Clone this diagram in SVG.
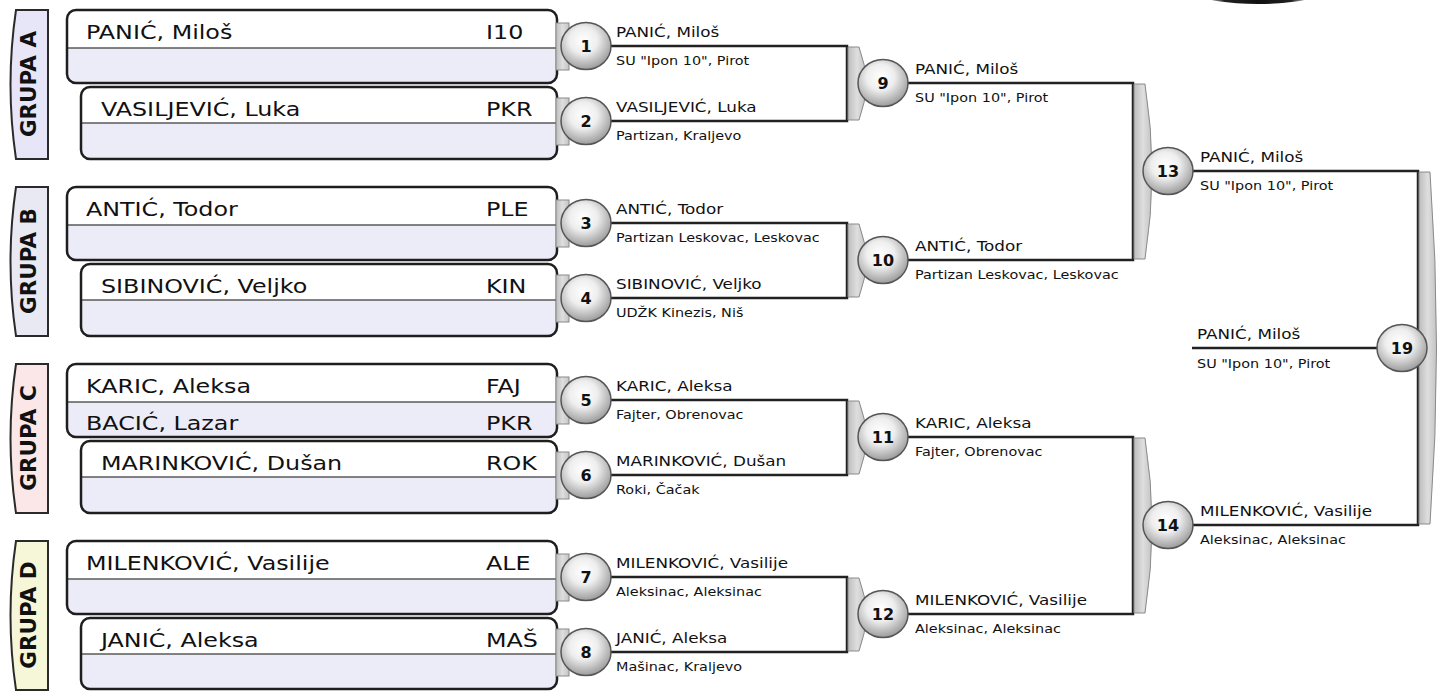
<svg xmlns="http://www.w3.org/2000/svg" width="1441" height="691" viewBox="0 0 1441 691">
<defs>
<radialGradient id="ball" cx="45%" cy="38%" r="62%">
<stop offset="0" stop-color="#ffffff"/>
<stop offset="0.45" stop-color="#eeeeee"/>
<stop offset="1" stop-color="#9c9c9c"/>
</radialGradient>
<linearGradient id="brk" x1="0" y1="0" x2="1" y2="0">
<stop offset="0" stop-color="#bdbdbd"/>
<stop offset="0.5" stop-color="#dedede"/>
<stop offset="1" stop-color="#c4c4c4"/>
</linearGradient>
<linearGradient id="dark" x1="0" y1="0" x2="1" y2="0">
<stop offset="0" stop-color="#444" stop-opacity="0"/>
<stop offset="0.2" stop-color="#222"/>
<stop offset="0.5" stop-color="#111"/>
<stop offset="0.8" stop-color="#222"/>
<stop offset="1" stop-color="#444" stop-opacity="0"/>
</linearGradient>
<style>
.tab{stroke:#2a2a2a;stroke-width:2}
.box{fill:#ecebf8;stroke:none}
.out{fill:none;stroke:#1e1e1e;stroke-width:2.5}
.top{fill:#ffffff}
.sep{stroke:#5a5a5a;stroke-width:1.3}
.gt{font-family:"DejaVu Sans",sans-serif;font-weight:bold;font-size:21.5px;fill:#111;text-anchor:middle}
.nm{font-family:"DejaVu Sans",sans-serif;font-size:20px;fill:#111}
.cn{font-family:"DejaVu Sans",sans-serif;font-size:14px;fill:#111}
.cl{font-family:"DejaVu Sans",sans-serif;font-size:12px;fill:#111}
.num{font-family:"DejaVu Sans",sans-serif;font-size:16px;font-weight:bold;fill:#111;text-anchor:middle}
.ball{fill:url(#ball);stroke:#555;stroke-width:1.5}
.wire{fill:none;stroke:#222;stroke-width:2.5}
.brk{fill:url(#brk);stroke:#8a8a8a;stroke-width:1}
</style>
</defs>
<rect width="1441" height="691" fill="#ffffff"/>
<ellipse cx="1258" cy="-5" rx="56" ry="9" fill="url(#dark)"/>

<!-- group tabs -->
<g id="grupa-a"><path class="tab" fill="#e6e6f8" d="M48,10 L16,10 Q5,84.5 16,159 L48,159 Z"/><text class="gt" transform="translate(36 84) rotate(-90)">GRUPA A</text></g>
<g id="grupa-b"><path class="tab" fill="#e9e9f4" d="M48,187 L16,187 Q5,261.5 16,336 L48,336 Z"/><text class="gt" transform="translate(36 261) rotate(-90)">GRUPA B</text></g>
<g id="grupa-c"><path class="tab" fill="#fbe7e7" d="M48,364 L16,364 Q5,438.5 16,513 L48,513 Z"/><text class="gt" transform="translate(36 438) rotate(-90)">GRUPA C</text></g>
<g id="grupa-d"><path class="tab" fill="#f6f6d9" d="M48,541 L16,541 Q5,615.5 16,690 L48,690 Z"/><text class="gt" transform="translate(36 615) rotate(-90)">GRUPA D</text></g>

<!-- player boxes -->
<g id="box-1">
<rect class="box" x="67" y="10" width="490" height="73" rx="9"/>
<path class="top" d="M67,48 L67,19 Q67,10 76,10 L548,10 Q557,10 557,19 L557,48 Z"/>
<line class="sep" x1="67" y1="48" x2="557" y2="48"/>
<rect class="out" x="67" y="10" width="490" height="73" rx="9"/>
<text class="nm" transform="matrix(1.19 0 0 1 86 39)">PANIĆ, Miloš</text>
<text class="nm" transform="matrix(1.19 0 0 1 486 39)">I10</text>
</g>
<g id="box-2">
<rect class="box" x="81" y="87" width="476" height="72" rx="9"/>
<path class="top" d="M81,123 L81,96 Q81,87 90,87 L548,87 Q557,87 557,96 L557,123 Z"/>
<line class="sep" x1="81" y1="123" x2="557" y2="123"/>
<rect class="out" x="81" y="87" width="476" height="72" rx="9"/>
<text class="nm" transform="matrix(1.19 0 0 1 101 116)">VASILJEVIĆ, Luka</text>
<text class="nm" transform="matrix(1.19 0 0 1 486 116)">PKR</text>
</g>
<g id="box-3">
<rect class="box" x="67" y="187" width="490" height="73" rx="9"/>
<path class="top" d="M67,225 L67,196 Q67,187 76,187 L548,187 Q557,187 557,196 L557,225 Z"/>
<line class="sep" x1="67" y1="225" x2="557" y2="225"/>
<rect class="out" x="67" y="187" width="490" height="73" rx="9"/>
<text class="nm" transform="matrix(1.19 0 0 1 86 216)">ANTIĆ, Todor</text>
<text class="nm" transform="matrix(1.19 0 0 1 486 216)">PLE</text>
</g>
<g id="box-4">
<rect class="box" x="81" y="264" width="476" height="72" rx="9"/>
<path class="top" d="M81,300 L81,273 Q81,264 90,264 L548,264 Q557,264 557,273 L557,300 Z"/>
<line class="sep" x1="81" y1="300" x2="557" y2="300"/>
<rect class="out" x="81" y="264" width="476" height="72" rx="9"/>
<text class="nm" transform="matrix(1.19 0 0 1 101 293)">SIBINOVIĆ, Veljko</text>
<text class="nm" transform="matrix(1.19 0 0 1 486 293)">KIN</text>
</g>
<g id="box-5">
<rect class="box" x="67" y="364" width="490" height="73" rx="9"/>
<path class="top" d="M67,402 L67,373 Q67,364 76,364 L548,364 Q557,364 557,373 L557,402 Z"/>
<line class="sep" x1="67" y1="402" x2="557" y2="402"/>
<rect class="out" x="67" y="364" width="490" height="73" rx="9"/>
<text class="nm" transform="matrix(1.19 0 0 1 86 393)">KARIC, Aleksa</text>
<text class="nm" transform="matrix(1.19 0 0 1 486 393)">FAJ</text>
<text class="nm" transform="matrix(1.19 0 0 1 86 430)">BACIĆ, Lazar</text>
<text class="nm" transform="matrix(1.19 0 0 1 486 430)">PKR</text>
</g>
<g id="box-6">
<rect class="box" x="81" y="441" width="476" height="72" rx="9"/>
<path class="top" d="M81,477 L81,450 Q81,441 90,441 L548,441 Q557,441 557,450 L557,477 Z"/>
<line class="sep" x1="81" y1="477" x2="557" y2="477"/>
<rect class="out" x="81" y="441" width="476" height="72" rx="9"/>
<text class="nm" transform="matrix(1.19 0 0 1 101 470)">MARINKOVIĆ, Dušan</text>
<text class="nm" transform="matrix(1.19 0 0 1 486 470)">ROK</text>
</g>
<g id="box-7">
<rect class="box" x="67" y="541" width="490" height="73" rx="9"/>
<path class="top" d="M67,579 L67,550 Q67,541 76,541 L548,541 Q557,541 557,550 L557,579 Z"/>
<line class="sep" x1="67" y1="579" x2="557" y2="579"/>
<rect class="out" x="67" y="541" width="490" height="73" rx="9"/>
<text class="nm" transform="matrix(1.19 0 0 1 86 570)">MILENKOVIĆ, Vasilije</text>
<text class="nm" transform="matrix(1.19 0 0 1 486 570)">ALE</text>
</g>
<g id="box-8">
<rect class="box" x="81" y="618" width="476" height="71" rx="9"/>
<path class="top" d="M81,654 L81,627 Q81,618 90,618 L548,618 Q557,618 557,627 L557,654 Z"/>
<line class="sep" x1="81" y1="654" x2="557" y2="654"/>
<rect class="out" x="81" y="618" width="476" height="71" rx="9"/>
<text class="nm" transform="matrix(1.19 0 0 1 101 647)">JANIĆ, Aleksa</text>
<text class="nm" transform="matrix(1.19 0 0 1 486 647)">MAŠ</text>
</g>

<!-- connectors -->
<g id="connectors">
<path class="wire" d="M586,46 H847 V121 H586"/>
<path class="wire" d="M586,223 H847 V298 H586"/>
<path class="wire" d="M586,400 H847 V475 H586"/>
<path class="wire" d="M586,577 H847 V652 H586"/>
<path class="wire" d="M883,83 H1133 V260 H883"/>
<path class="wire" d="M883,437 H1133 V614 H883"/>
<path class="wire" d="M1168,171 H1418 V525 H1168"/>
<path class="wire" d="M1192,348 H1402"/>
<rect class="brk" x="556" y="23" width="13" height="47"/>
<rect class="brk" x="556" y="98" width="13" height="47"/>
<rect class="brk" x="556" y="200" width="13" height="47"/>
<rect class="brk" x="556" y="275" width="13" height="47"/>
<rect class="brk" x="556" y="377" width="13" height="47"/>
<rect class="brk" x="556" y="452" width="13" height="47"/>
<rect class="brk" x="556" y="554" width="13" height="47"/>
<rect class="brk" x="556" y="629" width="13" height="47"/>
<path class="brk" d="M848,47 L859,47 Q873,83.5 859,120 L848,120 Z"/>
<path class="brk" d="M848,224 L859,224 Q873,260.5 859,297 L848,297 Z"/>
<path class="brk" d="M848,401 L859,401 Q873,437.5 859,474 L848,474 Z"/>
<path class="brk" d="M848,578 L859,578 Q873,614.5 859,651 L848,651 Z"/>
<path class="brk" d="M1134,84 L1145,84 Q1159,171.5 1145,259 L1134,259 Z"/>
<path class="brk" d="M1134,438 L1145,438 Q1159,525.5 1145,613 L1134,613 Z"/>
<path class="brk" d="M1419,172 L1430,172 Q1443,348 1430,524 L1419,524 Z"/>
</g>

<!-- matches -->
<g id="m1"><ellipse class="ball" cx="586" cy="46" rx="25" ry="23.5"/><text class="num" x="586" y="52">1</text><text class="cn" transform="matrix(1.2 0 0 1 616 37)">PANIĆ, Miloš</text><text class="cl" transform="matrix(1.2 0 0 1 616 65)">SU "Ipon 10", Pirot</text></g>
<g id="m2"><ellipse class="ball" cx="586" cy="121" rx="25" ry="23.5"/><text class="num" x="586" y="127">2</text><text class="cn" transform="matrix(1.2 0 0 1 616 112)">VASILJEVIĆ, Luka</text><text class="cl" transform="matrix(1.2 0 0 1 616 140)">Partizan, Kraljevo</text></g>
<g id="m3"><ellipse class="ball" cx="586" cy="223" rx="25" ry="23.5"/><text class="num" x="586" y="229">3</text><text class="cn" transform="matrix(1.2 0 0 1 616 214)">ANTIĆ, Todor</text><text class="cl" transform="matrix(1.2 0 0 1 616 242)">Partizan Leskovac, Leskovac</text></g>
<g id="m4"><ellipse class="ball" cx="586" cy="298" rx="25" ry="23.5"/><text class="num" x="586" y="304">4</text><text class="cn" transform="matrix(1.2 0 0 1 616 289)">SIBINOVIĆ, Veljko</text><text class="cl" transform="matrix(1.2 0 0 1 616 317)">UDŽK Kinezis, Niš</text></g>
<g id="m5"><ellipse class="ball" cx="586" cy="400" rx="25" ry="23.5"/><text class="num" x="586" y="406">5</text><text class="cn" transform="matrix(1.2 0 0 1 616 391)">KARIC, Aleksa</text><text class="cl" transform="matrix(1.2 0 0 1 616 419)">Fajter, Obrenovac</text></g>
<g id="m6"><ellipse class="ball" cx="586" cy="475" rx="25" ry="23.5"/><text class="num" x="586" y="481">6</text><text class="cn" transform="matrix(1.2 0 0 1 616 466)">MARINKOVIĆ, Dušan</text><text class="cl" transform="matrix(1.2 0 0 1 616 494)">Roki, Čačak</text></g>
<g id="m7"><ellipse class="ball" cx="586" cy="577" rx="25" ry="23.5"/><text class="num" x="586" y="583">7</text><text class="cn" transform="matrix(1.2 0 0 1 616 568)">MILENKOVIĆ, Vasilije</text><text class="cl" transform="matrix(1.2 0 0 1 616 596)">Aleksinac, Aleksinac</text></g>
<g id="m8"><ellipse class="ball" cx="586" cy="652" rx="25" ry="23.5"/><text class="num" x="586" y="658">8</text><text class="cn" transform="matrix(1.2 0 0 1 616 643)">JANIĆ, Aleksa</text><text class="cl" transform="matrix(1.2 0 0 1 616 671)">Mašinac, Kraljevo</text></g>
<g id="m9"><ellipse class="ball" cx="883" cy="83" rx="25" ry="23.5"/><text class="num" x="883" y="89">9</text><text class="cn" transform="matrix(1.2 0 0 1 915 74)">PANIĆ, Miloš</text><text class="cl" transform="matrix(1.2 0 0 1 915 102)">SU "Ipon 10", Pirot</text></g>
<g id="m10"><ellipse class="ball" cx="883" cy="260" rx="25" ry="23.5"/><text class="num" x="883" y="266">10</text><text class="cn" transform="matrix(1.2 0 0 1 915 251)">ANTIĆ, Todor</text><text class="cl" transform="matrix(1.2 0 0 1 915 279)">Partizan Leskovac, Leskovac</text></g>
<g id="m11"><ellipse class="ball" cx="883" cy="437" rx="25" ry="23.5"/><text class="num" x="883" y="443">11</text><text class="cn" transform="matrix(1.2 0 0 1 915 428)">KARIC, Aleksa</text><text class="cl" transform="matrix(1.2 0 0 1 915 456)">Fajter, Obrenovac</text></g>
<g id="m12"><ellipse class="ball" cx="883" cy="614" rx="25" ry="23.5"/><text class="num" x="883" y="620">12</text><text class="cn" transform="matrix(1.2 0 0 1 915 605)">MILENKOVIĆ, Vasilije</text><text class="cl" transform="matrix(1.2 0 0 1 915 633)">Aleksinac, Aleksinac</text></g>
<g id="m13"><ellipse class="ball" cx="1168" cy="171" rx="25" ry="23.5"/><text class="num" x="1168" y="177">13</text><text class="cn" transform="matrix(1.2 0 0 1 1200 162)">PANIĆ, Miloš</text><text class="cl" transform="matrix(1.2 0 0 1 1200 190)">SU "Ipon 10", Pirot</text></g>
<g id="m14"><ellipse class="ball" cx="1168" cy="525" rx="25" ry="23.5"/><text class="num" x="1168" y="531">14</text><text class="cn" transform="matrix(1.2 0 0 1 1200 516)">MILENKOVIĆ, Vasilije</text><text class="cl" transform="matrix(1.2 0 0 1 1200 544)">Aleksinac, Aleksinac</text></g>
<g id="m19"><ellipse class="ball" cx="1402" cy="348" rx="25" ry="23.5"/><text class="num" x="1402" y="354">19</text><text class="cn" transform="matrix(1.2 0 0 1 1197 339)">PANIĆ, Miloš</text><text class="cl" transform="matrix(1.2 0 0 1 1197 368)">SU "Ipon 10", Pirot</text></g>
</svg>
